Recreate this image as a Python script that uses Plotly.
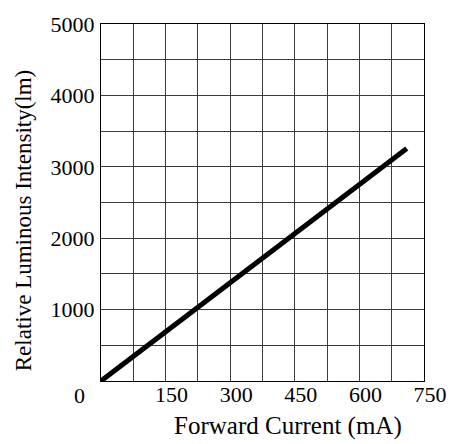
import plotly.graph_objects as go

# Data
current_ma = [0, 150, 300, 450, 600, 710]
intensity_lm = [0, 690, 1380, 2070, 2760, 3255]

x_ticks = [150, 300, 450, 600, 750]
y_ticks = [1000, 2000, 3000, 4000, 5000]

FONT = "Liberation Serif, Times New Roman, serif"

W, H = 459, 444
L, R, T, B = 101, 29, 20, 63
pw, ph = W - L - R, H - T - B

fig = go.Figure()
fig.add_trace(go.Scatter(
    x=current_ma, y=intensity_lm, mode="lines",
    line=dict(color="black", width=5), hoverinfo="skip", showlegend=False,
))

fig.update_layout(
    width=W, height=H,
    margin=dict(l=L, r=R, t=T, b=B),
    paper_bgcolor="white", plot_bgcolor="white",
    font=dict(family=FONT, size=22, color="black"),
    xaxis=dict(
        range=[0, 750], tickvals=x_ticks, ticktext=[str(v) for v in x_ticks],
        showgrid=False, zeroline=False,
        minor=dict(dtick=75, showgrid=True, gridcolor="#3a3a3a", gridwidth=1),
        showline=True, linecolor="black", linewidth=1, mirror=True,
        ticks="", ticklabelshift=6, ticklabelstandoff=-6,
    ),
    yaxis=dict(
        range=[0, 5000], tickvals=y_ticks, ticktext=[str(v) for v in y_ticks],
        showgrid=False, zeroline=False,
        minor=dict(dtick=500, showgrid=True, gridcolor="#3a3a3a", gridwidth=1),
        showline=True, linecolor="black", linewidth=1, mirror=True,
        ticks="", ticklabelstandoff=1,
    ),
    annotations=[
        dict(text="0", x=0, y=0, xref="x", yref="y", showarrow=False,
             xanchor="center", yanchor="middle",
             xshift=-22, yshift=-14, font=dict(size=22)),
        dict(text="Forward Current (mA)", xref="paper", yref="paper",
             x=(291 - L) / pw, y=(H - B - 443) / ph,
             xanchor="center", yanchor="bottom",
             showarrow=False, font=dict(size=25)),
        dict(text="Relative Luminous Intensity(lm)", xref="paper", yref="paper",
             x=(22 - L) / pw, y=(H - B - 218) / ph,
             xanchor="center", yanchor="middle",
             showarrow=False, textangle=-90, font=dict(size=23)),
    ],
)

fig.write_html("out.html")
